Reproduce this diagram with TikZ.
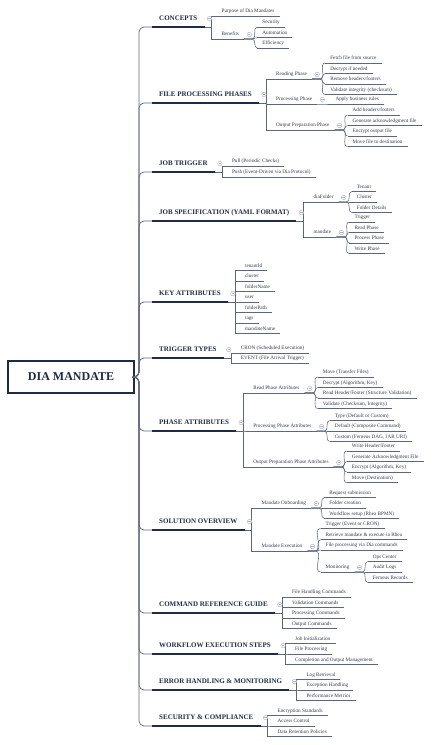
\documentclass[tikz,border=0pt]{standalone}
\usepackage{fontspec}
\setmainfont{Liberation Serif}
\usetikzlibrary{positioning}

\definecolor{navy}{HTML}{1F2B45}
\definecolor{leafc}{HTML}{353C4E}
\definecolor{linkc}{HTML}{5E667C}
\definecolor{foldc}{HTML}{A9B1C4}

\tikzset{
    rootbox/.style={rectangle, draw=navy, line width=2pt, fill=white, text=navy, font=\fontsize{12}{14}\selectfont\bfseries, minimum width=126pt, minimum height=32pt},
    hline/.style={draw=navy, line width=2pt},
    uline/.style={draw=linkc, line width=0.55pt},
    topic/.style={anchor=south west, text=navy, font=\fontsize{7}{8}\selectfont\bfseries, inner xsep=7pt, inner ysep=5pt, text height=5pt, text depth=1.5pt, append after command={(\tikzlastnode.south west) edge[hline] (\tikzlastnode.south east)}},
    leaf/.style={anchor=south west, text=leafc, font=\fontsize{5.2}{6}\selectfont, inner xsep=5pt, inner ysep=2pt, text height=3.6pt, text depth=1pt, append after command={(\tikzlastnode.south west) edge[uline] (\tikzlastnode.south east)}},
    link/.style={draw=linkc, line width=0.55pt},
    trunk/.style={draw=linkc, line width=0.7pt, rounded corners=5pt},
    fold/.style={circle, draw=foldc, fill=white, line width=0.4pt, inner sep=0pt, minimum size=4.5pt, path picture={\draw[foldc, line width=0.4pt] ([xshift=-1.2pt]path picture bounding box.center) -- ([xshift=1.2pt]path picture bounding box.center);}}
}

\begin{document}
\begin{tikzpicture}[x=1pt, y=-1pt]
    \useasboundingbox (0,0) rectangle (439,745);

    \node [rootbox] (root) at (71,377) {DIA MANDATE};

    % main topics
    \node [topic] (concepts) at (152,27) {CONCEPTS};
    \node [topic] (filephases) at (152,103) {FILE PROCESSING PHASES};
    \node [topic] (jobtrigger) at (152,172) {JOB TRIGGER};
    \node [topic] (jobspec) at (152,221) {JOB SPECIFICATION (YAML FORMAT)};
    \node [topic] (keyattr) at (152,302) {KEY ATTRIBUTES};
    \node [topic] (triggertypes) at (152,358) {TRIGGER TYPES};
    \node [topic] (phaseattr) at (152,431) {PHASE ATTRIBUTES};
    \node [topic] (solution) at (152,530) {SOLUTION OVERVIEW};
    \node [topic] (cmdref) at (152,613) {COMMAND REFERENCE GUIDE};
    \node [topic] (workflow) at (152,654) {WORKFLOW EXECUTION STEPS};
    \node [topic] (errorhandling) at (152,690) {ERROR HANDLING \& MONITORING};
    \node [topic] (seccomp) at (152,726) {SECURITY \& COMPLIANCE};

    \foreach \h in {concepts,filephases,jobtrigger,jobspec,keyattr,triggertypes,phaseattr,solution,cmdref,workflow,errorhandling,seccomp}
        \draw [trunk] (root.east) -- ++(4,0) |- (\h.south west);

    % concepts
    \node [leaf] (purpose) at ([xshift=12pt,yshift=11pt]concepts.south east) {Purpose of Dia Mandates};
    \node [leaf] (benefits) at ([xshift=12pt,yshift=-12pt]concepts.south east) {Benefits};
    \node [leaf] (bsecurity) at ([xshift=13pt,yshift=12pt]benefits.south east) {Security};
    \node [leaf] (bautomation) at ([xshift=13pt,yshift=1.5pt]benefits.south east) {Automation};
    \node [leaf] (befficiency) at ([xshift=13pt,yshift=-9pt]benefits.south east) {Efficiency};

    % file processing phases
    \node [leaf] (reading) at ([xshift=12pt,yshift=24pt]filephases.south east) {Reading Phase};
    \node [leaf] (processing) at ([xshift=12pt,yshift=-1pt]filephases.south east) {Processing Phase};
    \node [leaf] (outprep) at ([xshift=12pt,yshift=-27pt]filephases.south east) {Output Preparation Phase};
    \node [leaf] (fetch) at ([xshift=13pt,yshift=16pt]reading.south east) {Fetch file from source};
    \node [leaf] (decryptif) at ([xshift=13pt,yshift=5.5pt]reading.south east) {Decrypt if needed};
    \node [leaf] (removehf) at ([xshift=13pt,yshift=-5pt]reading.south east) {Remove headers/footers};
    \node [leaf] (validateint) at ([xshift=13pt,yshift=-15.5pt]reading.south east) {Validate integrity (checksum)};
    \node [leaf] (applyrules) at ([xshift=13pt]processing.south east) {Apply business rules};
    \node [leaf] (addhf) at ([xshift=13pt,yshift=15pt]outprep.south east) {Add headers/footers};
    \node [leaf] (genack) at ([xshift=13pt,yshift=4.5pt]outprep.south east) {Generate acknowledgment file};
    \node [leaf] (encryptout) at ([xshift=13pt,yshift=-6pt]outprep.south east) {Encrypt output file};
    \node [leaf] (movefile) at ([xshift=13pt,yshift=-16.5pt]outprep.south east) {Move file to destination};

    % job trigger
    \node [leaf] (pull) at ([xshift=12pt,yshift=6pt]jobtrigger.south east) {Pull (Periodic Checks)};
    \node [leaf] (push) at ([xshift=12pt,yshift=-5pt]jobtrigger.south east) {Push (Event-Driven via Dia Protocol)};

    % job specification
    \node [leaf] (diafolder) at ([xshift=12pt,yshift=19pt]jobspec.south east) {diaFolder};
    \node [leaf] (mandate) at ([xshift=12pt,yshift=-16pt]jobspec.south east) {mandate};
    \node [leaf] (tenant) at ([xshift=13pt,yshift=10.5pt]diafolder.south east) {Tenant};
    \node [leaf] (clusterd) at ([xshift=13pt]diafolder.south east) {Cluster};
    \node [leaf] (folderdetails) at ([xshift=13pt,yshift=-10.5pt]diafolder.south east) {Folder Details};
    \node [leaf] (mtrigger) at ([xshift=13pt,yshift=15pt]mandate.south east) {Trigger};
    \node [leaf] (mread) at ([xshift=13pt,yshift=4.5pt]mandate.south east) {Read Phase};
    \node [leaf] (mprocess) at ([xshift=13pt,yshift=-6pt]mandate.south east) {Process Phase};
    \node [leaf] (mwrite) at ([xshift=13pt,yshift=-16.5pt]mandate.south east) {Write Phase};

    % key attributes
    \node [leaf] (tenantid) at ([xshift=12pt,yshift=31.5pt]keyattr.south east) {tenantId};
    \node [leaf] (cluster) at ([xshift=12pt,yshift=21pt]keyattr.south east) {cluster};
    \node [leaf] (foldername) at ([xshift=12pt,yshift=10.5pt]keyattr.south east) {folderName};
    \node [leaf] (user) at ([xshift=12pt]keyattr.south east) {user};
    \node [leaf] (folderpath) at ([xshift=12pt,yshift=-10.5pt]keyattr.south east) {folderPath};
    \node [leaf] (tags) at ([xshift=12pt,yshift=-21pt]keyattr.south east) {tags};
    \node [leaf] (mandatename) at ([xshift=12pt,yshift=-31.5pt]keyattr.south east) {mandateName};

    % trigger types
    \node [leaf] (cron) at ([xshift=12pt,yshift=5pt]triggertypes.south east) {CRON (Scheduled Execution)};
    \node [leaf] (event) at ([xshift=12pt,yshift=-5pt]triggertypes.south east) {EVENT (File Arrival Trigger)};

    % phase attributes
    \node [leaf] (readpa) at ([xshift=12pt,yshift=38pt]phaseattr.south east) {Read Phase Attributes};
    \node [leaf] (procpa) at ([xshift=12pt]phaseattr.south east) {Processing Phase Attributes};
    \node [leaf] (outpa) at ([xshift=12pt,yshift=-36pt]phaseattr.south east) {Output Preparation Phase Attributes};
    \node [leaf] (pamove) at ([xshift=13pt,yshift=16pt]readpa.south east) {Move (Transfer Files)};
    \node [leaf] (padecrypt) at ([xshift=13pt,yshift=5.5pt]readpa.south east) {Decrypt (Algorithm, Key)};
    \node [leaf] (paheader) at ([xshift=13pt,yshift=-5pt]readpa.south east) {Read Header/Footer (Structure Validation)};
    \node [leaf] (pavalidate) at ([xshift=13pt,yshift=-15.5pt]readpa.south east) {Validate (Checksum, Integrity)};
    \node [leaf] (patype) at ([xshift=13pt,yshift=10.5pt]procpa.south east) {Type (Default or Custom)};
    \node [leaf] (padefault) at ([xshift=13pt]procpa.south east) {Default (Composite Command)};
    \node [leaf] (pacustom) at ([xshift=13pt,yshift=-10.5pt]procpa.south east) {Custom (Ferneus DAG, JAR URI)};
    \node [leaf] (pawrite) at ([xshift=13pt,yshift=16pt]outpa.south east) {Write Header/Footer};
    \node [leaf] (pagenack) at ([xshift=13pt,yshift=5.5pt]outpa.south east) {Generate Acknowledgment File};
    \node [leaf] (paencrypt) at ([xshift=13pt,yshift=-5pt]outpa.south east) {Encrypt (Algorithm, Key)};
    \node [leaf] (padest) at ([xshift=13pt,yshift=-15.5pt]outpa.south east) {Move (Destination)};

    % solution overview
    \node [leaf] (onboarding) at ([xshift=12pt,yshift=22pt]solution.south east) {Mandate Onboarding};
    \node [leaf] (execution) at ([xshift=12pt,yshift=-21pt]solution.south east) {Mandate Execution};
    \node [leaf] (request) at ([xshift=13pt,yshift=10.5pt]onboarding.south east) {Request submission};
    \node [leaf] (foldercreate) at ([xshift=13pt]onboarding.south east) {Folder creation};
    \node [leaf] (wfsetup) at ([xshift=13pt,yshift=-10.5pt]onboarding.south east) {Workflow setup (Rhea BPMN)};
    \node [leaf] (etrigger) at ([xshift=13pt,yshift=22.5pt]execution.south east) {Trigger (Event or CRON)};
    \node [leaf] (retrieve) at ([xshift=13pt,yshift=11.5pt]execution.south east) {Retrieve mandate \& execute in Rhea};
    \node [leaf] (fileproc) at ([xshift=13pt,yshift=1pt]execution.south east) {File processing via Dia commands};
    \node [leaf] (monitoring) at ([xshift=13pt,yshift=-21pt]execution.south east) {Monitoring};
    \node [leaf] (opscenter) at ([xshift=13pt,yshift=10.5pt]monitoring.south east) {Ops Center};
    \node [leaf] (auditlogs) at ([xshift=13pt]monitoring.south east) {Audit Logs};
    \node [leaf] (ferneus) at ([xshift=13pt,yshift=-10.5pt]monitoring.south east) {Ferneus Records};

    % command reference guide
    \node [leaf] (cmdfile) at ([xshift=12pt,yshift=16pt]cmdref.south east) {File Handling Commands};
    \node [leaf] (cmdvalid) at ([xshift=12pt,yshift=5.5pt]cmdref.south east) {Validation Commands};
    \node [leaf] (cmdproc) at ([xshift=12pt,yshift=-5pt]cmdref.south east) {Processing Commands};
    \node [leaf] (cmdout) at ([xshift=12pt,yshift=-15.5pt]cmdref.south east) {Output Commands};

    % workflow execution steps
    \node [leaf] (jobinit) at ([xshift=12pt,yshift=10.5pt]workflow.south east) {Job Initialization};
    \node [leaf] (wfproc) at ([xshift=12pt]workflow.south east) {File Processing};
    \node [leaf] (completion) at ([xshift=12pt,yshift=-10.5pt]workflow.south east) {Completion and Output Management};

    % error handling
    \node [leaf] (logret) at ([xshift=12pt,yshift=10.5pt]errorhandling.south east) {Log Retrieval};
    \node [leaf] (exception) at ([xshift=12pt]errorhandling.south east) {Exception Handling};
    \node [leaf] (perf) at ([xshift=12pt,yshift=-10.5pt]errorhandling.south east) {Performance Metrics};

    % security
    \node [leaf] (encstd) at ([xshift=12pt,yshift=10.5pt]seccomp.south east) {Encryption Standards};
    \node [leaf] (access) at ([xshift=12pt]seccomp.south east) {Access Control};
    \node [leaf] (retention) at ([xshift=12pt,yshift=-10.5pt]seccomp.south east) {Data Retention Policies};

    % elbow connectors from main topics
    \foreach \p/\cs in {concepts/{purpose,benefits}, filephases/{reading,processing,outprep}, jobtrigger/{pull,push}, jobspec/{diafolder,mandate}, keyattr/{tenantid,cluster,foldername,user,folderpath,tags,mandatename}, triggertypes/{cron,event}, phaseattr/{readpa,procpa,outpa}, solution/{onboarding,execution}, cmdref/{cmdfile,cmdvalid,cmdproc,cmdout}, workflow/{jobinit,wfproc,completion}, errorhandling/{logret,exception,perf}, seccomp/{encstd,access,retention}}
        \foreach \c in \cs
            \draw [link] (\p.south east) -- ++(7,0) |- (\c.south west);

    % curved connectors for sub topics
    \foreach \p/\cs in {benefits/{bsecurity,bautomation,befficiency}, reading/{fetch,decryptif,removehf,validateint}, processing/{applyrules}, outprep/{addhf,genack,encryptout,movefile}, diafolder/{tenant,clusterd,folderdetails}, mandate/{mtrigger,mread,mprocess,mwrite}, readpa/{pamove,padecrypt,paheader,pavalidate}, procpa/{patype,padefault,pacustom}, outpa/{pawrite,pagenack,paencrypt,padest}, onboarding/{request,foldercreate,wfsetup}, execution/{etrigger,retrieve,fileproc,monitoring}, monitoring/{opscenter,auditlogs,ferneus}}
        \foreach \c in \cs
            \draw [link] (\p.south east) -- ++(8,0) to[out=0, in=180] (\c.south west);

    % collapse markers
    \foreach \n in {concepts,benefits,filephases,reading,processing,outprep,jobtrigger,jobspec,diafolder,mandate,keyattr,triggertypes,phaseattr,readpa,procpa,outpa,solution,onboarding,execution,monitoring,cmdref,workflow,errorhandling,seccomp}
        \node [fold] (\n-fold) at ([xshift=5pt]\n.east) {};
\end{tikzpicture}
\end{document}
